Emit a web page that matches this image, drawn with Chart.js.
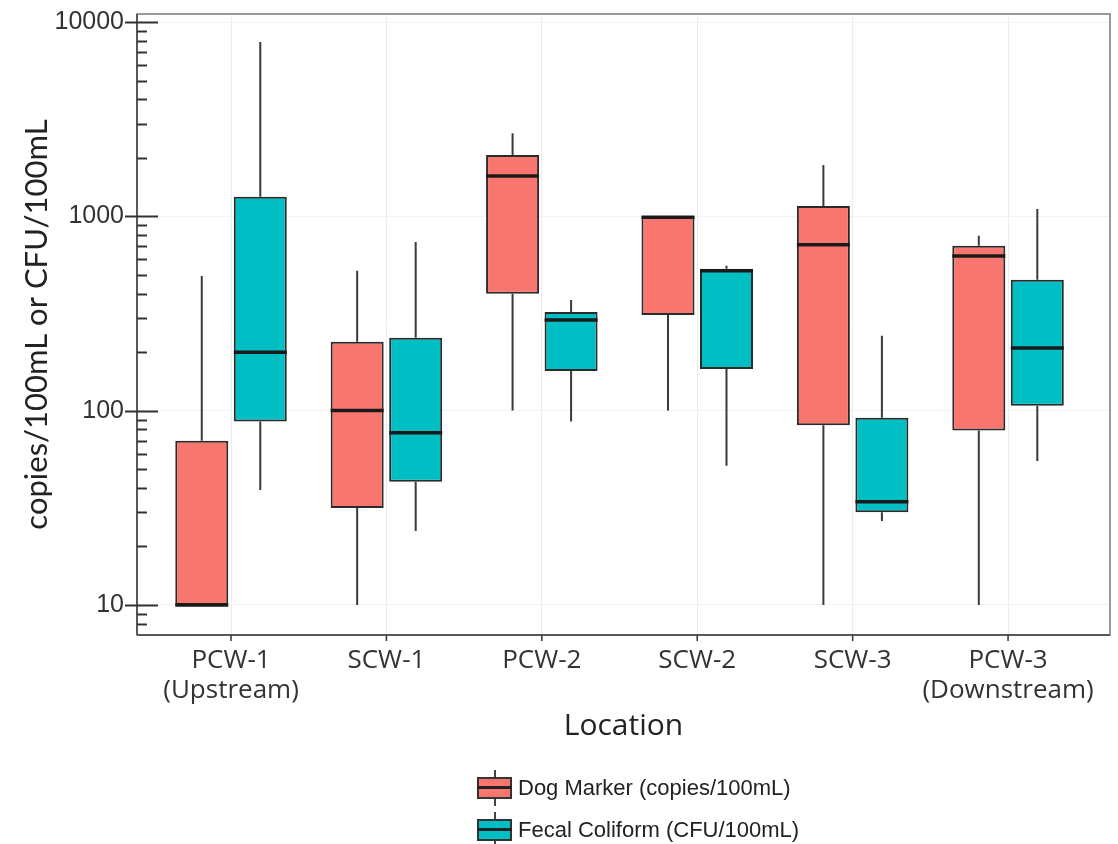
<!DOCTYPE html>
<html>
<head>
<meta charset="utf-8">
<script src="https://cdn.jsdelivr.net/npm/chart.js@4/dist/chart.umd.min.js"></script>
<style>
  html, body { margin: 0; padding: 0; background: #fff; }
  #wrap { position: relative; width: 1118px; height: 844px; overflow: hidden; }
  #c { position: absolute; left: 0; top: 0; }
  .leg { position: absolute; left: 477px; height: 36px; display: flex; align-items: center;
         font-family: 'Liberation Sans', Arial, sans-serif; font-size: 22px; color: #222; white-space: nowrap; }
  .glyph { position: relative; width: 35px; height: 36px; margin-right: 6px; }
  .glyph .wh { position: absolute; left: 16.5px; top: 0; width: 2px; height: 36px; background: #444; }
  .glyph .bx { position: absolute; left: 0; top: 7px; width: 31px; height: 18px; border: 2px solid #333; }
  .glyph .md { position: absolute; left: 0; top: 15.5px; width: 35px; height: 3px; background: #222; }
</style>
</head>
<body>
<div id="wrap">
  <canvas id="c" width="1118" height="844"></canvas>
  <div class="leg" id="leg0" style="top:770px;"></div>
  <div class="leg" id="leg1" style="top:812px;"></div>
</div>
<script>
// ---- data ----
const categories = [['PCW-1', '(Upstream)'], 'SCW-1', 'PCW-2', 'SCW-2', 'SCW-3', ['PCW-3', '(Downstream)']];
const seriesNames = ['Dog Marker (copies/100mL)', 'Fecal Coliform (CFU/100mL)'];
const seriesColors = ['#F8766D', '#00BFC4'];

const dogMin = [10, 10, 100, 100, 10, 10];
const dogQ1  = [10, 31.5, 400, 311, 84, 79];
const dogMed = [10, 100, 1615, 990, 713, 625];
const dogQ3  = [70, 226, 2070, 1000, 1130, 705];
const dogMax = [493, 525, 2680, 1000, 1840, 795];

const fecMin = [39, 24, 88, 52, 27, 55];
const fecQ1  = [88, 43, 160, 164, 30, 106];
const fecMed = [200, 77, 293, 524, 34, 210];
const fecQ3  = [1260, 237, 322, 538, 92, 471];
const fecMax = [7900, 738, 371, 556, 243, 1090];

const yTickValues = [10, 100, 1000, 10000];

// ---- build ----
const stats = [
  { min: dogMin, q1: dogQ1, med: dogMed, q3: dogQ3, max: dogMax },
  { min: fecMin, q1: fecQ1, med: fecMed, q3: fecQ3, max: fecMax }
];
function boxData(s) { return categories.map((c, i) => ({ x: i, y: [s.q1[i], s.q3[i]] })); }

const boxPlugin = {
  id: 'boxWhiskers',
  beforeDatasetsDraw(chart) {
    const ctx = chart.ctx, y = chart.scales.y;
    ctx.save();
    ctx.strokeStyle = '#3a3a3a';
    ctx.lineWidth = 2;
    chart.data.datasets.forEach((ds, d) => {
      const s = stats[d];
      chart.getDatasetMeta(d).data.forEach((el, i) => {
        const x = el.x;
        ctx.beginPath();
        ctx.moveTo(x, y.getPixelForValue(s.q3[i]));
        ctx.lineTo(x, y.getPixelForValue(s.max[i]));
        ctx.moveTo(x, y.getPixelForValue(s.q1[i]));
        ctx.lineTo(x, y.getPixelForValue(s.min[i]));
        ctx.stroke();
      });
    });
    ctx.restore();
  },
  afterDatasetsDraw(chart) {
    const ctx = chart.ctx, y = chart.scales.y;
    ctx.save();
    ctx.strokeStyle = '#1a1a1a';
    ctx.lineWidth = 3.5;
    chart.data.datasets.forEach((ds, d) => {
      const s = stats[d];
      chart.getDatasetMeta(d).data.forEach((el, i) => {
        const py = y.getPixelForValue(s.med[i]);
        ctx.beginPath();
        ctx.moveTo(el.x - el.width / 2, py);
        ctx.lineTo(el.x + el.width / 2, py);
        ctx.stroke();
      });
    });
    ctx.restore();
  }
};

const framePlugin = {
  id: 'frame',
  afterDraw(chart) {
    const ctx = chart.ctx, a = chart.chartArea, y = chart.scales.y, x = chart.scales.x;
    ctx.save();
    ctx.strokeStyle = '#7a7a7a';
    ctx.lineWidth = 1.5;
    ctx.strokeRect(a.left, a.top, a.right - a.left, a.bottom - a.top);
    ctx.strokeStyle = '#444';
    ctx.lineWidth = 1.5;
    ctx.beginPath();
    ctx.moveTo(a.left, a.top); ctx.lineTo(a.left, a.bottom);
    ctx.moveTo(a.left, a.bottom); ctx.lineTo(a.right, a.bottom);
    ctx.stroke();
    // y ticks
    ctx.strokeStyle = '#333';
    ctx.lineWidth = 2;
    for (let e = 0; e <= 4; e++) {
      for (let m = 1; m <= 9; m++) {
        const v = m * Math.pow(10, e);
        if (v <= y.min || v > y.max) continue;
        const py = Math.round(y.getPixelForValue(v)) + 0.5;
        ctx.beginPath();
        if (m === 1) { ctx.moveTo(a.left - 12, py); ctx.lineTo(a.left + 21, py); }
        else { ctx.moveTo(a.left, py); ctx.lineTo(a.left + 10, py); }
        ctx.stroke();
      }
    }
    // x ticks
    ctx.lineWidth = 1.5;
    x.ticks.forEach(t => {
      const px = x.getPixelForValue(t.value);
      ctx.beginPath();
      ctx.moveTo(px, a.bottom); ctx.lineTo(px, a.bottom + 6);
      ctx.stroke();
    });
    ctx.restore();
  }
};

new Chart(document.getElementById('c'), {
  type: 'bar',
  data: {
    datasets: seriesNames.map((name, d) => ({
      label: name,
      data: boxData(stats[d]),
      backgroundColor: seriesColors[d],
      borderColor: '#2a2a2a',
      borderWidth: 2,
      borderSkipped: false,
      categoryPercentage: 0.753,
      barPercentage: 0.906
    }))
  },
  options: {
    responsive: false,
    animation: false,
    devicePixelRatio: 1,
    layout: { padding: { left: 0, right: 8, top: 14, bottom: 100 } },
    plugins: { legend: { display: false }, tooltip: { enabled: false } },
    scales: {
      x: {
        type: 'linear', min: -0.605, max: 5.656, offset: false,
        afterBuildTicks: ax => { ax.ticks = categories.map((c, i) => ({ value: i })); },
        afterFit: ax => { ax.height = 109; ax.paddingLeft = 0; ax.paddingRight = 0; },
        ticks: {
          callback: (v) => categories[v],
          font: { family: 'Open Sans', size: 26, lineHeight: 1.15 },
          color: '#333', padding: 11, maxRotation: 0, autoSkip: false
        },
        grid: { color: '#ececec', drawTicks: false, offset: false },
        border: { display: false },
        title: { display: true, text: 'Location', font: { family: 'Open Sans', size: 30 }, color: '#222', padding: { top: 0, bottom: 0 } }
      },
      y: {
        type: 'logarithmic', min: 7, max: 11000,
        afterBuildTicks: ax => { ax.ticks = yTickValues.map(v => ({ value: v, major: true })); },
        afterFit: ax => { ax.width = 137; ax.paddingTop = 0; ax.paddingBottom = 0; },
        ticks: {
          callback: (v) => String(v),
          font: { family: 'Liberation Sans', size: 25, lineHeight: 1.1 },
          color: '#333', padding: 13
        },
        grid: { color: '#f2f2f2', drawTicks: false },
        border: { display: false },
        title: { display: true, text: 'copies/100mL or CFU/100mL', font: { family: 'Lato', size: 31 }, color: '#222', padding: { top: 18, bottom: 0 } }
      }
    }
  },
  plugins: [boxPlugin, framePlugin]
});

// HTML legend
seriesNames.forEach((name, d) => {
  const el = document.getElementById('leg' + d);
  el.innerHTML = '<div class="glyph"><div class="wh"></div><div class="bx" style="background:' + seriesColors[d] +
    '"></div><div class="md"></div></div><span></span>';
  el.querySelector('span').textContent = name;
});
</script>
</body>
</html>
